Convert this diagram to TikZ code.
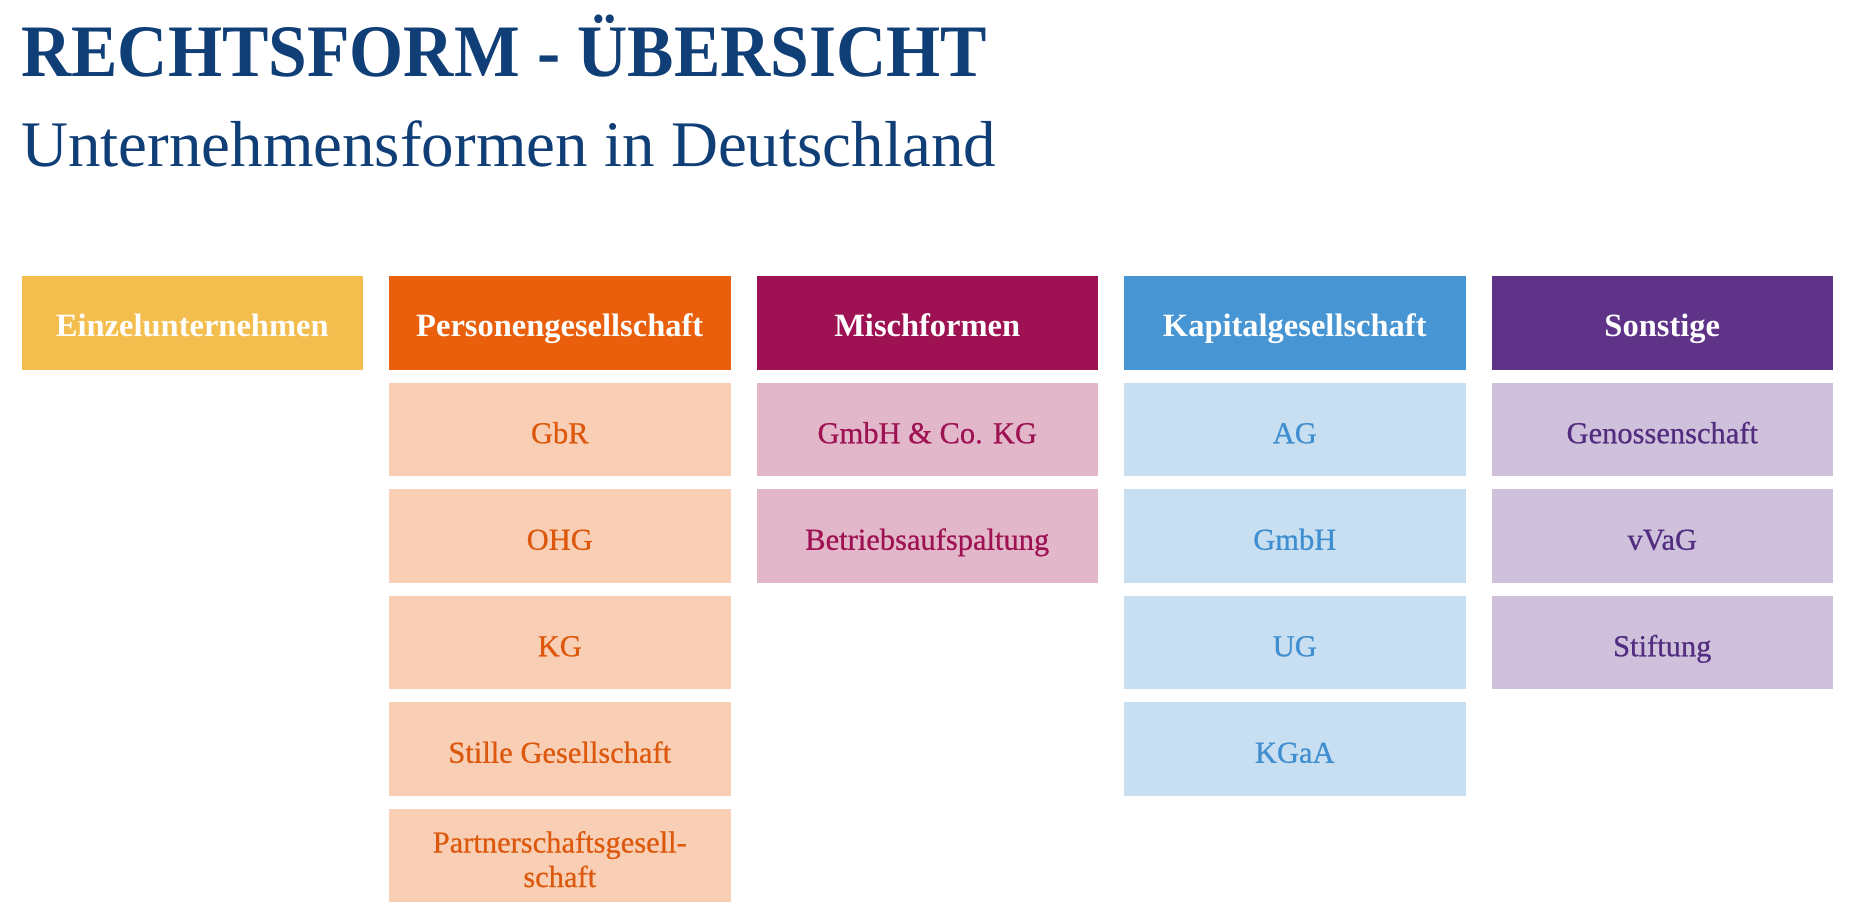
\documentclass[tikz,border=0pt]{standalone}
\usepackage{fontspec}
\setmainfont{Liberation Serif}
\newfontfamily\titlefont[FakeStretch=0.94]{Liberation Serif}
\newfontfamily\itemfont[FakeBold=0.6]{Liberation Serif}
\usetikzlibrary{positioning}

\definecolor{navy}{RGB}{16,62,118}
\definecolor{einzel}{RGB}{244,190,79}
\definecolor{pers}{RGB}{234,95,11}
\definecolor{perslight}{RGB}{248,207,181}
\definecolor{perstext}{RGB}{221,88,12}
\definecolor{misch}{RGB}{158,17,82}
\definecolor{mischlight}{RGB}{226,183,201}
\definecolor{kap}{RGB}{71,149,210}
\definecolor{kaplight}{RGB}{200,223,242}
\definecolor{kaptext}{RGB}{63,142,207}
\definecolor{sonst}{RGB}{94,51,136}
\definecolor{sonstlight}{RGB}{207,193,220}
\definecolor{sonsttext}{RGB}{81,44,127}

\begin{document}
\begin{tikzpicture}[
    x=1pt,y=-1pt,
    node distance=13pt and 26pt,
    box/.style={rectangle,inner sep=0pt,outer sep=0pt,align=center,
                minimum width=341.5pt,minimum height=93.5pt},
    head/.style={box,text=white,text height=28pt,text depth=0pt,
                 font=\fontsize{32.5}{36}\selectfont\bfseries},
    item/.style={box,text height=28pt,text depth=0pt,
                 font=\itemfont\fontsize{30.5}{34.5}\selectfont}
]
  \useasboundingbox[fill=white] (0,0) rectangle (1865,923);

  \node[anchor=base west,inner sep=0pt,text=navy,
        font=\titlefont\fontsize{74}{80}\selectfont\bfseries] (title) at (21,77) {RECHTSFORM - ÜBERSICHT};
  \node[anchor=base west,inner sep=0pt,text=navy,
        font=\fontsize{65}{70}\selectfont] (subtitle) at (21,166) {Unternehmensformen in Deutschland};

  % column heads
  \node[head,fill=einzel,anchor=north west] (einzel) at (21.5,276) {Einzelunternehmen};
  \node[head,fill=pers,right=of einzel] (pers) {Personengesellschaft};
  \node[head,fill=misch,right=of pers] (misch) {Mischformen};
  \node[head,fill=kap,right=of misch] (kap) {Kapitalgesellschaft};
  \node[head,fill=sonst,right=of kap] (sonst) {Sonstige};

  % Personengesellschaft
  \node[item,fill=perslight,text=perstext,below=of pers] (gbr) {GbR};
  \node[item,fill=perslight,text=perstext,below=of gbr] (ohg) {OHG};
  \node[item,fill=perslight,text=perstext,below=of ohg] (kg) {KG};
  \node[item,fill=perslight,text=perstext,below=of kg] (still) {Stille Gesellschaft};
  \node[item,fill=perslight,text=perstext,text depth=33.5pt,below=of still] (partner)
    {\begin{tabular}[t]{@{}c@{}}Partnerschaftsgesell-\\schaft\end{tabular}};

  % Mischformen
  \node[item,fill=mischlight,text=misch,below=of misch] (gmbhcokg) {GmbH \& Co. KG};
  \node[item,fill=mischlight,text=misch,below=of gmbhcokg] (betrieb) {Betriebsaufspaltung};

  % Kapitalgesellschaft
  \node[item,fill=kaplight,text=kaptext,below=of kap] (ag) {AG};
  \node[item,fill=kaplight,text=kaptext,below=of ag] (gmbh) {GmbH};
  \node[item,fill=kaplight,text=kaptext,below=of gmbh] (ug) {UG};
  \node[item,fill=kaplight,text=kaptext,below=of ug] (kgaa) {KGaA};

  % Sonstige
  \node[item,fill=sonstlight,text=sonsttext,below=of sonst] (geno) {Genossenschaft};
  \node[item,fill=sonstlight,text=sonsttext,below=of geno] (vvag) {vVaG};
  \node[item,fill=sonstlight,text=sonsttext,below=of vvag] (stiftung) {Stiftung};
\end{tikzpicture}
\end{document}
